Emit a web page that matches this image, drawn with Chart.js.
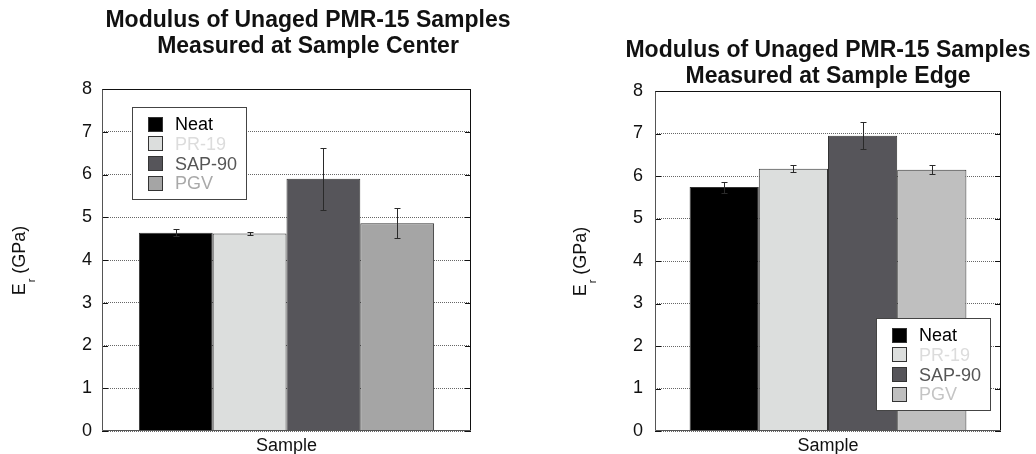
<!DOCTYPE html>
<html><head><meta charset="utf-8">
<script src="https://cdn.jsdelivr.net/npm/chart.js@4.4.1/dist/chart.umd.min.js"></script>
<style>
html,body{margin:0;padding:0;background:#fff;}
#wrap{position:relative;width:1036px;height:454px;overflow:hidden;}
canvas{position:absolute;top:0;}
</style>
</head><body>
<div id="wrap">
<canvas id="c1" width="518" height="454" style="left:0px"></canvas>
<canvas id="c2" width="518" height="454" style="left:518px"></canvas>
</div>
<script>
// ---------- data ----------
const categories = ['Sample'];
const seriesNames = ['Neat', 'PR-19', 'SAP-90', 'PGV'];
const centerValues = [4.64, 4.62, 5.90, 4.86];
const centerErrors = [0.09, 0.03, 0.72, 0.35];
const edgeValues = [5.74, 6.17, 6.95, 6.15];
const edgeErrors = [0.13, 0.08, 0.32, 0.11];
const yMin = 0, yMax = 8, yStep = 1;
const centerTitle = ['Modulus of Unaged PMR-15 Samples', 'Measured at Sample Center'];
const edgeTitle = ['Modulus of Unaged PMR-15 Samples', 'Measured at Sample Edge'];
const yTitleMain = 'E', yTitleSub = 'r', yTitleRest = ' (GPa)';

// ---------- styles ----------
const FONT = '"Liberation Sans", Arial, Helvetica, sans-serif';
const centerFill = ['#000000', '#dcdedd', '#56555a', '#a5a5a5'];
const centerText = ['#000000', '#dcdcdc', '#555555', '#a9a9a9'];
const edgeFill = ['#000000', '#dcdedd', '#56555a', '#bfbfbf'];
const edgeText = ['#000000', '#dcdcdc', '#555555', '#c4c4c4'];

function makePlugin(cfg) {
  return {
    id: 'custom_' + cfg.id,
    afterDatasetsDraw(chart) {
      const ctx = chart.ctx, ca = chart.chartArea, ys = chart.scales.y;
      ctx.save();
      // error bars
      chart.data.datasets.forEach((ds, i) => {
        const meta = chart.getDatasetMeta(i);
        meta.data.forEach((bar, j) => {
          const v = ds.data[j], e = ds.errors[j];
          const yT = Math.round(ys.getPixelForValue(v + e)) + 0.5;
          const yB = Math.round(ys.getPixelForValue(v - e)) + 0.5;
          const x = Math.round(bar.x) + 0.5;
          ctx.strokeStyle = '#2a2a2a';
          ctx.lineWidth = 1;
          ctx.beginPath();
          ctx.moveTo(x, yT); ctx.lineTo(x, yB);
          ctx.moveTo(x - 3, yT); ctx.lineTo(x + 3, yT);
          ctx.moveTo(x - 3, yB); ctx.lineTo(x + 3, yB);
          ctx.stroke();
        });
      });
      // inner tick marks
      ctx.strokeStyle = '#111';
      ctx.lineWidth = 1;
      ctx.beginPath();
      ys.ticks.forEach(t => {
        const y = Math.round(ys.getPixelForValue(t.value)) + 0.5;
        ctx.moveTo(ca.left, y); ctx.lineTo(ca.left + 6, y);
        ctx.moveTo(ca.right - 6, y); ctx.lineTo(ca.right, y);
      });
      ctx.stroke();
      // frame
      const L = Math.round(ca.left) + 0.5, R = Math.round(ca.right) - 0.5;
      const T = Math.round(ca.top) + 0.5, B = Math.round(ca.bottom) - 0.5;
      ctx.strokeStyle = '#111';
      ctx.beginPath(); ctx.moveTo(L, T); ctx.lineTo(R, T); ctx.lineTo(R, B); ctx.stroke();
      ctx.strokeStyle = '#555';
      ctx.beginPath(); ctx.moveTo(L, T); ctx.lineTo(L, B); ctx.lineTo(R, B); ctx.stroke();
      // legend
      const lp = cfg.legendPos(ca);
      const bw = 115, bh = 93;
      ctx.fillStyle = '#fff';
      ctx.fillRect(lp.x, lp.y, bw, bh);
      ctx.strokeStyle = '#444';
      ctx.strokeRect(lp.x + 0.5, lp.y + 0.5, bw - 1, bh - 1);
      ctx.font = '18px ' + FONT;
      ctx.textBaseline = 'middle';
      ctx.textAlign = 'left';
      chart.data.datasets.forEach((ds, i) => {
        const cy = lp.y + 17 + i * 19.8;
        ctx.fillStyle = ds.backgroundColor;
        ctx.fillRect(lp.x + 16, Math.round(cy - 7.5), 15, 15);
        ctx.strokeStyle = '#333';
        ctx.strokeRect(lp.x + 16.5, Math.round(cy - 7.5) + 0.5, 14, 14);
        ctx.fillStyle = cfg.textColors[i];
        ctx.fillText(ds.label, lp.x + 43, cy + 1);
      });
      ctx.restore();
    },
    afterDraw(chart) {
      const ctx = chart.ctx;
      ctx.save();
      // title
      ctx.font = 'bold 23px ' + FONT;
      ctx.fillStyle = '#111';
      ctx.textAlign = 'center';
      ctx.textBaseline = 'alphabetic';
      cfg.title.forEach((line, i) => ctx.fillText(line, cfg.titleX, cfg.titleBase[i]));
      // y axis title (rotated, with subscript)
      const cy = (chart.chartArea.top + chart.chartArea.bottom) / 2 + 1;
      ctx.translate(cfg.yTitleX, cy);
      ctx.rotate(-Math.PI / 2);
      ctx.textAlign = 'left';
      ctx.fillStyle = '#111';
      ctx.font = '18px ' + FONT;
      const wMain = ctx.measureText(yTitleMain).width;
      const wRest = ctx.measureText(yTitleRest).width;
      ctx.font = '11px ' + FONT;
      const wSub = ctx.measureText(yTitleSub).width;
      let x0 = -(wMain + wSub + wRest) / 2;
      ctx.font = '18px ' + FONT;
      ctx.fillText(yTitleMain, x0, 0);
      ctx.font = '11px ' + FONT;
      ctx.fillText(yTitleSub, x0 + wMain + 1, 10);
      ctx.font = '18px ' + FONT;
      ctx.fillText(yTitleRest, x0 + wMain + wSub + 1, 0);
      ctx.restore();
    }
  };
}

function makeChart(cfg) {
  const datasets = seriesNames.map((name, i) => ({
    label: name,
    data: [cfg.values[i]],
    errors: [cfg.errors[i]],
    backgroundColor: cfg.fill[i],
    borderColor: '#333',
    borderWidth: 1,
    barPercentage: 1.0,
    categoryPercentage: 0.8
  }));
  return new Chart(document.getElementById(cfg.id), {
    type: 'bar',
    data: { labels: categories, datasets },
    options: {
      responsive: false,
      animation: false,
      devicePixelRatio: 1,
      layout: { padding: { left: 0, right: cfg.padRight, top: cfg.padTop, bottom: 0 } },
      plugins: { legend: { display: false }, title: { display: false }, tooltip: { enabled: false } },
      scales: {
        x: {
          type: 'category',
          grid: { display: false },
          border: { display: false },
          ticks: { font: { family: FONT, size: 18 }, color: '#111', padding: -4 },
          afterFit: s => { s.height = 23; }
        },
        y: {
          min: yMin, max: yMax,
          ticks: { stepSize: yStep, font: { family: FONT, size: 18 }, color: '#111', padding: cfg.tickPad },
          grid: { color: '#666', lineWidth: 1, drawTicks: false },
          border: { display: false, dash: [1, 1] },
          afterFit: s => { s.width = cfg.yWidth; }
        }
      }
    },
    plugins: [makePlugin(cfg)]
  });
}

makeChart({
  id: 'c1', values: centerValues, errors: centerErrors, fill: centerFill, textColors: centerText,
  title: centerTitle, titleX: 308, titleBase: [27, 53],
  padRight: 47, padTop: 89, yWidth: 102, tickPad: 10, yTitleX: 25,
  legendPos: ca => ({ x: Math.round(ca.left) + 30, y: Math.round(ca.top) + 18 })
});
makeChart({
  id: 'c2', values: edgeValues, errors: edgeErrors, fill: edgeFill, textColors: edgeText,
  title: edgeTitle, titleX: 310, titleBase: [57, 83],
  padRight: 35, padTop: 91, yWidth: 137, tickPad: 12, yTitleX: 68,
  legendPos: ca => ({ x: Math.round(ca.right) - 10 - 115, y: Math.round(ca.bottom) - 20 - 93 })
});
</script>
</body></html>
